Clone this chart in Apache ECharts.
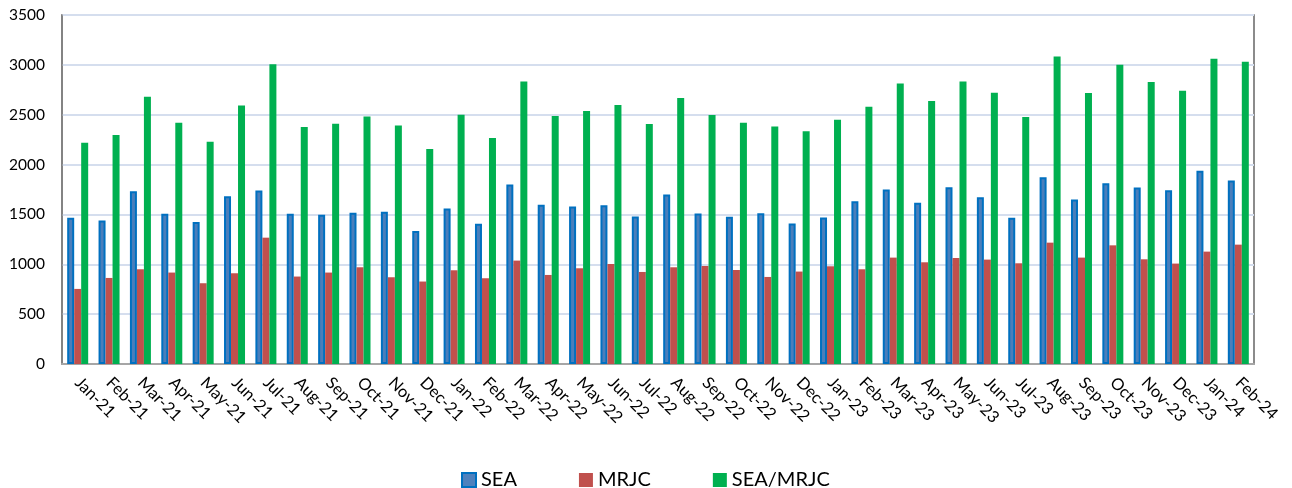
<!DOCTYPE html>
<html>
<head>
<meta charset="utf-8">
<script src="https://cdn.jsdelivr.net/npm/echarts@6/dist/echarts.min.js"></script>
<style>
html,body{margin:0;padding:0;background:#fff;}
#chart{width:1292px;height:488px;}
</style>
</head>
<body>
<div id="chart"></div>
<script>
const categories = ["Jan-21","Feb-21","Mar-21","Apr-21","May-21","Jun-21","Jul-21","Aug-21","Sep-21","Oct-21","Nov-21","Dec-21",
"Jan-22","Feb-22","Mar-22","Apr-22","May-22","Jun-22","Jul-22","Aug-22","Sep-22","Oct-22","Nov-22","Dec-22",
"Jan-23","Feb-23","Mar-23","Apr-23","May-23","Jun-23","Jul-23","Aug-23","Sep-23","Oct-23","Nov-23","Dec-23",
"Jan-24","Feb-24"];
const seaValues = [1467,1440,1733,1507,1423,1683,1740,1507,1497,1517,1527,1333,
1560,1407,1800,1597,1580,1593,1480,1700,1510,1477,1513,1410,
1470,1633,1750,1617,1773,1673,1467,1873,1650,1813,1770,1743,
1937,1840];
const mrjcValues = [753,863,950,917,810,910,1267,877,917,970,870,827,
940,860,1037,893,960,1003,923,970,983,943,873,927,
980,950,1067,1020,1063,1047,1010,1217,1067,1190,1050,1007,
1127,1197];
const ratioValues = [2220,2297,2680,2420,2230,2593,3007,2377,2410,2483,2393,2157,
2500,2267,2833,2487,2537,2597,2407,2667,2497,2420,2383,2333,
2450,2580,2813,2637,2833,2720,2477,3083,2717,3000,2827,2740,
3060,3030];
const seriesNames = ["SEA","MRJC","SEA/MRJC"];
const yTicks = {min:0, max:3500, interval:500};

const FONT = 'Lato';
const chart = echarts.init(document.getElementById('chart'));
chart.setOption({
  animation:false,
  backgroundColor:'#fff',
  grid:{left:62,right:38,top:15,bottom:124,show:true,borderColor:'#666',borderWidth:1.5,backgroundColor:'transparent'},
  legend:{
    left:456, top:465,
    itemWidth:14,itemHeight:14,itemGap:62,
    icon:'rect',
    textStyle:{fontFamily:FONT,fontSize:20,color:'#000'},
    data:[
      {name:seriesNames[0],itemStyle:{color:'#4F81BD',borderColor:'#0070C0',borderWidth:2}},
      {name:seriesNames[1],itemStyle:{color:'#C0504D'}},
      {name:seriesNames[2],itemStyle:{color:'#00B050'}}
    ]
  },
  xAxis:{
    type:'category',
    data:categories,
    axisLine:{show:true,lineStyle:{color:'#A6A6A6',width:2}},
    axisTick:{show:false},
    axisLabel:{interval:0,rotate:-45,margin:16,fontFamily:FONT,fontSize:16.5,color:'#000'},
    splitLine:{show:false}
  },
  yAxis:{
    type:'value',
    min:yTicks.min,max:yTicks.max,interval:yTicks.interval,
    axisLine:{show:true,lineStyle:{color:'#808080',width:1.5}},
    axisTick:{show:false},
    axisLabel:{margin:17,fontFamily:FONT,fontSize:15.5,color:'#000',formatter:function(v){return String(v);}},
    splitLine:{show:true,lineStyle:{color:'#D5DEEE',width:2}}
  },
  series:[
    {name:seriesNames[0],type:'bar',data:seaValues,barWidth:7,barGap:'0%',
     itemStyle:{color:'#4A7EBB',borderColor:'#0070C0',borderWidth:2}},
    {name:seriesNames[1],type:'bar',data:mrjcValues,barWidth:7,barGap:'0%',
     itemStyle:{color:'#C0504D'}},
    {name:seriesNames[2],type:'bar',data:ratioValues,barWidth:7,barGap:'0%',
     itemStyle:{color:'#00B050'}}
  ]
});
</script>
</body>
</html>
